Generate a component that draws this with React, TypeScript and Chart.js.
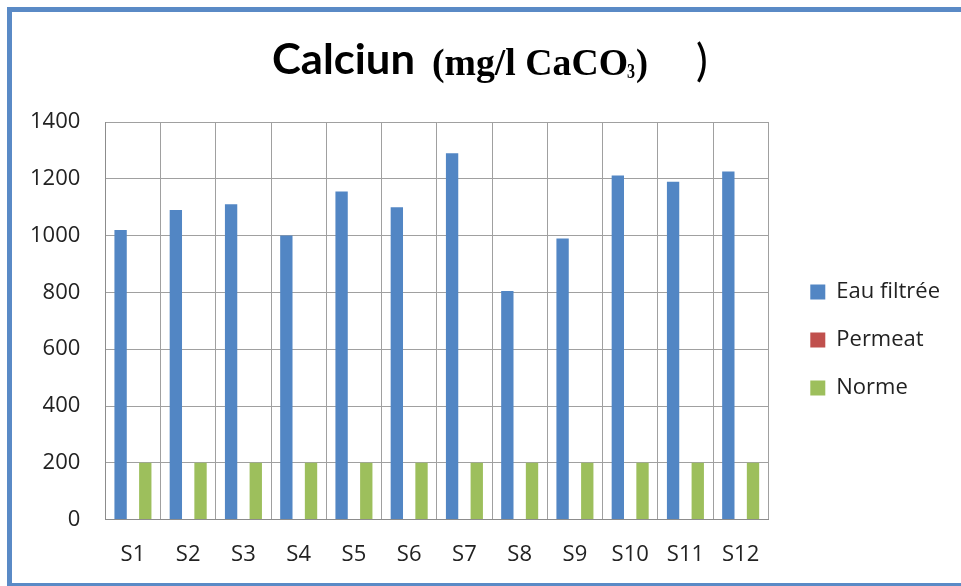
import React, { useEffect, useRef } from "react";
import { Chart, registerables } from "chart.js";

Chart.register(...registerables);

const categories = ["S1", "S2", "S3", "S4", "S5", "S6", "S7", "S8", "S9", "S10", "S11", "S12"];
const eauFiltree = [1020, 1090, 1110, 1000, 1155, 1100, 1290, 805, 990, 1212, 1190, 1226];
const permeat = [0, 0, 0, 0, 0, 0, 0, 0, 0, 0, 0, 0];
const norme = [200, 200, 200, 200, 200, 200, 200, 200, 200, 200, 200, 200];
const seriesNames = ["Eau filtrée", "Permeat", "Norme"];
const seriesColors = ["#5286C4", "#C0504D", "#9DBF5C"];
const yMin = 0;
const yMax = 1400;
const yStep = 200;
const titleMain = "Calciun";
const titleUnit = "(mg/l CaCO";
const titleSub = "3";
const titleClose = ")";

const LABEL_FONT = "'Open Sans', 'DejaVu Sans', sans-serif";

const mixedTitle = {
  id: "mixedTitle",
  afterDraw(chart: any) {
    const ctx = chart.ctx as CanvasRenderingContext2D;
    ctx.save();
    ctx.fillStyle = "#000";
    ctx.textBaseline = "alphabetic";
    ctx.textAlign = "left";
    const drawFit = (text: string, font: string, x: number, y: number, w: number) => {
      ctx.font = font;
      const m = ctx.measureText(text).width || 1;
      ctx.save();
      ctx.translate(x, y);
      ctx.scale(w / m, 1);
      ctx.fillText(text, 0, 0);
      ctx.restore();
    };
    drawFit(titleMain, "bold 42px Lato", 272, 74, 143);
    drawFit(titleUnit, "bold 37px 'Liberation Serif'", 432, 75, 196);
    drawFit(titleSub, "bold 22px 'Liberation Serif'", 627, 78, 8);
    drawFit(titleClose, "bold 37px 'Liberation Serif'", 636, 75, 12);
    ctx.font = "44px Lato";
    ctx.fillText(titleClose, 696, 76);
    ctx.restore();
  },
};

const legendShift = {
  id: "legendShift",
  afterLayout(chart: any) {
    const l = chart.legend;
    if (l) {
      l.left += 16;
      l.right += 16;
      l.top -= 16;
      l.bottom -= 16;
    }
  },
};

export default function App() {
  const ref = useRef<HTMLCanvasElement | null>(null);

  useEffect(() => {
    if (!ref.current) return;
    const chart = new Chart(ref.current, {
      type: "bar",
      data: {
        labels: categories,
        datasets: [
          { label: seriesNames[0], data: eauFiltree, backgroundColor: seriesColors[0], borderWidth: 0 },
          { label: seriesNames[1], data: permeat, backgroundColor: seriesColors[1], borderWidth: 0 },
          { label: seriesNames[2], data: norme, backgroundColor: seriesColors[2], borderWidth: 0 },
        ],
      },
      options: {
        animation: false,
        responsive: false,
        layout: { padding: { top: 122, left: 5, right: 27, bottom: -4 } },
        datasets: { bar: { categoryPercentage: 0.67, barPercentage: 1 } },
        plugins: {
          title: { display: false },
          tooltip: { enabled: false },
          legend: {
            position: "right",
            labels: {
              font: { family: LABEL_FONT, size: 22 },
              color: "#222",
              boxWidth: 15,
              boxHeight: 15,
              padding: 26,
            },
          },
        },
        scales: {
          x: {
            grid: { color: "#a0a0a0", lineWidth: 1, drawTicks: false, offset: true },
            border: { color: "#8c8c8c", width: 1 },
            ticks: { font: { family: LABEL_FONT, size: 22 }, color: "#222", padding: 22, maxRotation: 0 },
          },
          y: {
            min: yMin,
            max: yMax,
            grid: { color: "#a0a0a0", lineWidth: 1, drawTicks: false },
            border: { color: "#8c8c8c", width: 1 },
            ticks: {
              stepSize: yStep,
              font: { family: LABEL_FONT, size: 22 },
              color: "#222",
              padding: 25,
              callback: (v: any) => String(v),
            },
          },
        },
      },
      plugins: [mixedTitle, legendShift],
    });
    return () => chart.destroy();
  }, []);

  return (
    <div style={{ position: "fixed", left: 0, top: 0, width: 961, height: 586, overflow: "hidden", background: "#fff" }}>
      <div
        style={{
          position: "absolute",
          left: 7,
          top: 7,
          width: 1000,
          height: 581,
          border: "5px solid #5A8AC6",
          boxSizing: "border-box",
        }}
      />
      <canvas ref={ref} width={961} height={586} style={{ position: "absolute", left: 0, top: 0, width: 961, height: 586 }} />
    </div>
  );
}
